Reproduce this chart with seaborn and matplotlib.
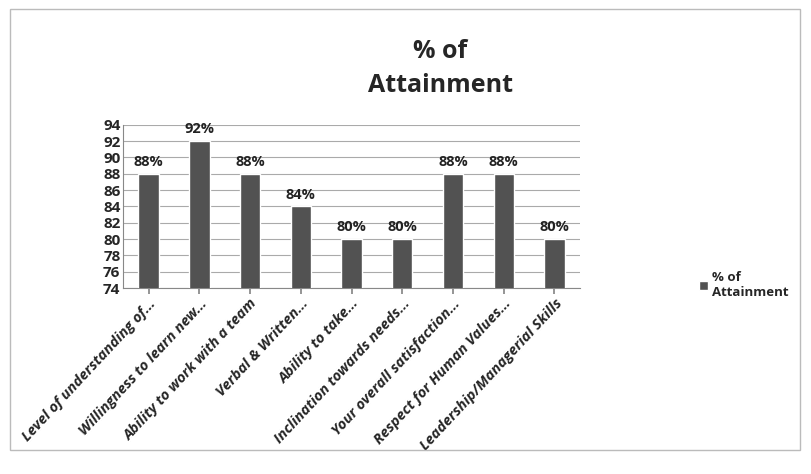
import matplotlib
matplotlib.use("Agg")
import matplotlib.pyplot as plt
import seaborn as sns
import pandas as pd
from matplotlib.patches import Rectangle

categories = [
    "Level of understanding of...",
    "Willingness to learn new...",
    "Ability to work with a team",
    "Verbal & Written...",
    "Ability to take...",
    "Inclination towards needs...",
    "Your overall satisfaction...",
    "Respect for Human Values...",
    "Leadership/Managerial Skills",
]
values = [88, 92, 88, 84, 80, 80, 88, 88, 80]
yticks = list(range(74, 95, 2))
series_name = "% of\nAttainment"

sns.set_theme(style="white")
plt.rcParams["font.family"] = ["Open Sans", "DejaVu Sans"]

df = pd.DataFrame({"item": categories, "pct": values})

fig = plt.figure(figsize=(8.11, 4.74), dpi=100)
ax = fig.add_axes([0.152, 0.392, 0.563, 0.345])

sns.barplot(data=df, x="item", y="pct", color="#525252", width=0.4,
            saturation=1, ax=ax, zorder=3)

ax.set_ylim(74, 94)
ax.set_yticks(yticks)
ax.set_yticklabels([str(t) for t in yticks], fontsize=11, fontweight="bold")
ax.yaxis.grid(True, color="#aaaaaa", linewidth=0.8, zorder=0)
ax.set_axisbelow(True)
ax.set_xlabel("")
ax.set_ylabel("")
ax.tick_params(axis="y", pad=2, length=0)
ax.tick_params(axis="x", pad=2, length=4, color="#888888", bottom=True)
ax.set_xticks(range(len(categories)))
ax.set_xticklabels(categories, rotation=47, ha="right", rotation_mode="anchor",
                   fontsize=10.5, fontstyle="italic", fontweight="bold")
for s in ["top", "right"]:
    ax.spines[s].set_visible(False)
for s in ["left", "bottom"]:
    ax.spines[s].set_color("#888888")
    ax.spines[s].set_linewidth(0.8)

for i, v in enumerate(values):
    ax.text(i, v + 0.6, f"{v}%", ha="center", va="bottom",
            fontsize=10.5, fontweight="bold", color="#222222")

fig.text(440 / 811, 1 - 52 / 474, "% of", ha="center", va="center",
         fontsize=18, fontweight="bold")
fig.text(440 / 811, 1 - 86 / 474, "Attainment", ha="center", va="center",
         fontsize=18, fontweight="bold")

ax.legend(handles=[ax.patches[0]], labels=[series_name], loc="center left",
          bbox_to_anchor=(1.235, 0.02), frameon=False,
          handlelength=0.7, handleheight=0.7, handletextpad=0.3,
          prop={"weight": "bold", "size": 9.5})

fig.patches.append(Rectangle((0.012, 0.05), 0.975, 0.93, transform=fig.transFigure,
                             fill=False, edgecolor="#bbbbbb", linewidth=1))

fig.savefig("out.png", dpi=100, facecolor="white")
